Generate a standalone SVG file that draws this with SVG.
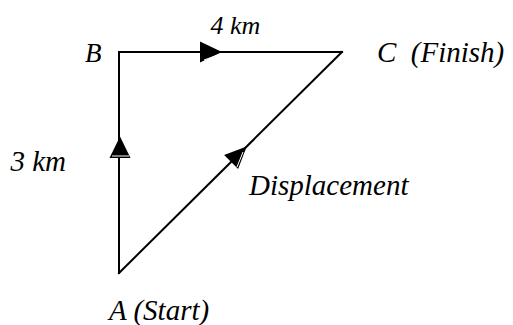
<svg xmlns="http://www.w3.org/2000/svg" width="513" height="325" viewBox="0 0 513 325">
<style>
.edge{stroke:#000;stroke-width:2;fill:none;stroke-linecap:square}
.head{fill:#000;stroke:none}
.glint{stroke:#fff;stroke-width:1;fill:none}
</style>
<rect width="513" height="325" fill="#fff"/>
<g id="connectors">
<g id="edge-AB">
<line class="edge" x1="119" y1="273" x2="119" y2="52"/>
<polygon class="head" points="120,136.5 109.5,158 130.5,158"/>
<line class="glint" x1="112" y1="156" x2="129" y2="156"/>
</g>
<g id="edge-BC">
<polyline class="edge" points="119,52 342,52"/>
<polygon class="head" points="222,52 200,41.5 200,62.5"/>
<line class="glint" x1="204" y1="60" x2="218" y2="55"/>
</g>
<g id="edge-AC">
<line class="edge" x1="119" y1="273" x2="342" y2="52"/>
<polygon class="head" points="246.7,146.5 224.1,154.9 238.1,169.1"/>
<line class="glint" x1="237" y1="167" x2="243" y2="152"/>
</g>
</g>
<g id="node-B"><text x="85" y="61.5" font-family="'Liberation Serif', 'Times New Roman', serif" font-style="italic" font-size="27">B</text></g>
<g id="node-C"><text x="377" y="61.5" font-family="'Liberation Serif', 'Times New Roman', serif" font-style="italic" font-size="29" xml:space="preserve">C  (Finish)</text></g>
<g id="node-A"><text x="109" y="320" font-family="'Liberation Serif', 'Times New Roman', serif" font-style="italic" font-size="29">A (Start)</text></g>
<g id="label-4km"><text x="210.5" y="34" font-family="'Liberation Serif', 'Times New Roman', serif" font-style="italic" font-size="26">4 km</text></g>
<g id="label-3km"><text x="10.5" y="170.5" font-family="'Liberation Serif', 'Times New Roman', serif" font-style="italic" font-size="29">3 km</text></g>
<g id="label-displacement"><text x="249" y="195" font-family="'Liberation Serif', 'Times New Roman', serif" font-style="italic" font-size="29">Displacement</text></g>
</svg>
